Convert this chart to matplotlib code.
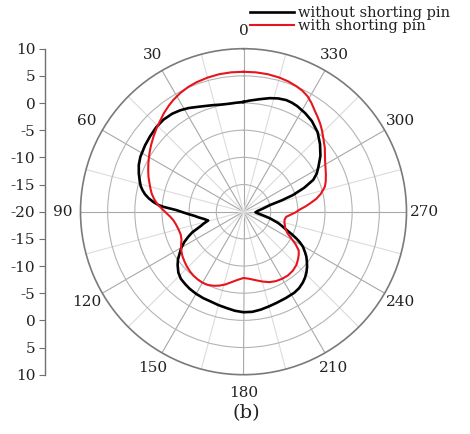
import matplotlib
matplotlib.use("Agg")
import matplotlib.pyplot as plt
import numpy as np

# measured radiation pattern (angle in deg, gain in dB)
ang_without = [0, 4, 8, 12, 16, 20, 24, 28, 32, 36, 41, 46, 51, 56, 62, 66, 70, 73, 76, 78, 80,
               82, 84, 85.5, 86.5, 88.6, 90.5, 92.4, 95, 97, 100, 104, 106.5, 109, 112, 114.5,
               117, 120, 123, 126, 129, 133, 137, 141, 145, 150, 155, 160, 165, 170, 175, 180,
               185, 190, 195, 200, 206, 212, 216, 220, 223, 226, 229, 232, 234.5, 236.5, 239.5,
               241.5, 243, 245, 247, 249.5, 252, 256, 259.5, 263, 267, 273, 279, 284, 286.5,
               288.6, 291.5, 294.5, 297.5, 301, 306, 311.5, 317, 323, 328, 333, 336, 339, 343,
               347, 352, 357, 360]
gain_without = [0.2, 0.1, 0.05, 0.15, 0.4, 0.7, 1.1, 1.6, 2.0, 2.3, 2.45, 2.35, 2.1, 1.85, 1.5,
                1.1, 0.5, 0.0, -0.5, -1.0, -1.6, -2.4, -3.4, -4.3, -5.2, -7.6, -8.8, -9.8, -11.0,
                -11.6, -12.5, -13.3, -12.4, -11.5, -9.8, -8.8, -7.8, -6.8, -6.0, -5.1, -4.4,
                -3.6, -3.1, -2.9, -2.7, -2.55, -2.45, -2.4, -2.2, -2.0, -1.7, -1.5, -1.5, -1.7,
                -1.95, -2.15, -2.3, -2.4, -2.6, -3.0, -3.4, -3.9, -4.5, -5.2, -5.8, -6.4, -7.3,
                -8.2, -9.0, -10.2, -11.4, -12.4, -13.3, -15.0, -16.4, -17.3, -17.8, -17.4, -16.4,
                -15.0, -12.7, -10.4, -8.0, -5.9, -4.8, -3.9, -2.5, -1.2, 0.0, 0.9, 1.4, 1.8,
                1.95, 2.0, 1.8, 1.45, 0.9, 0.47, 0.2]

ang_with = [0, 5, 10, 15, 20, 24, 28, 32, 35, 39, 42.5, 46, 50, 54, 57, 60, 64, 67, 70, 73, 76,
            79, 82, 85, 88, 91, 94, 97, 100, 105, 110, 114, 118, 122, 126, 130, 134, 138, 142,
            146, 150, 154, 158, 162, 166, 170, 175, 180, 185, 190, 195, 200, 205, 210, 215, 220,
            225, 229, 232, 235, 238, 241, 244, 248, 252, 255, 259, 263, 266, 269, 272, 275, 277,
            280, 283, 287, 290, 294, 298, 302, 305, 308, 311, 313, 316, 319, 322, 325, 328, 331,
            334, 337, 341, 345, 350, 355, 360]
gain_with = [5.75, 5.75, 5.7, 5.55, 5.35, 5.1, 4.75, 4.3, 3.9, 3.3, 2.7, 2.2, 1.6, 1.0, 0.55,
             0.1, -0.5, -0.95, -1.4, -1.9, -2.35, -2.8, -3.4, -4.1, -5.0, -5.8, -6.5, -7.0, -7.3,
             -7.6, -7.7, -7.5, -7.0, -6.5, -6.1, -5.8, -5.5, -5.25, -5.05, -4.95, -4.9, -5.0,
             -5.3, -5.7, -6.2, -6.8, -7.4, -7.8, -7.6, -7.2, -6.7, -6.2, -5.9, -5.75, -5.7,
             -5.85, -6.2, -6.7, -7.1, -7.6, -8.7, -10.0, -11.0, -11.7, -12.0, -12.2, -12.3,
             -12.1, -11.4, -10.5, -9.7, -8.5, -7.7, -6.4, -5.4, -4.35, -3.9, -3.4, -2.9, -2.3,
             -1.7, -1.0, -0.4, 0.06, 0.8, 1.5, 2.15, 2.8, 3.6, 4.3, 4.75, 5.05, 5.35, 5.55, 5.7,
             5.75, 5.75]

theta_ticks = list(range(0, 360, 30))
scale_ticks = list(range(-30, 31, 5))
scale_labels = ["10", "5", "0", "-5", "-10", "-15", "-20", "-15", "-10", "-5", "0", "5", "10"]

plt.rcParams['font.family'] = ['DejaVu Serif']
plt.rcParams['font.size'] = 10.5
txt = '#222222'

fig = plt.figure(figsize=(4.7, 4.34), dpi=100)
bottom = (434 - 211.7 - 163) / 434
height = 326 / 434
ax = fig.add_axes([(243.5 - 163) / 470, bottom, 326 / 470, height], projection='polar')
ax.set_theta_zero_location('N')
ax.set_theta_direction(1)

ax.plot(np.deg2rad(ang_without), gain_without, color='black', lw=1.9, label='without shorting pin')
ax.plot(np.deg2rad(ang_with), gain_with, color='#e8141c', lw=1.5, label='with shorting pin')

ax.set_ylim(-20, 10)
ax.set_yticks([-15, -10, -5, 0, 5])
ax.set_yticklabels([])
ax.set_xticks(np.deg2rad(theta_ticks))
ax.set_xticklabels([str(t) for t in theta_ticks], color=txt, fontsize=11)
ax.set_xticks(np.deg2rad(np.arange(15, 360, 30)), minor=True)
ax.xaxis.grid(True, which='major', color='#a8a8a8', lw=0.8)
ax.xaxis.grid(True, which='minor', color='#dcdcdc', lw=0.8)
ax.yaxis.grid(True, color='#b4b4b4', lw=0.8)
ax.tick_params(axis='x', which='both', direction='in', length=4, color='#888888', pad=6)
ax.spines['polar'].set_color('#7a7a7a')
ax.spines['polar'].set_linewidth(1.2)

# left dB scale (top to bottom)
axl = fig.add_axes([45 / 470, bottom, 0.0001, height])
axl.set_ylim(-30, 30)
axl.invert_yaxis()
axl.set_yticks(scale_ticks)
axl.set_yticklabels(scale_labels, color=txt, fontsize=11)
axl.set_xticks([])
for s in ['top', 'right', 'bottom']:
    axl.spines[s].set_visible(False)
axl.spines['left'].set_color('#707070')
axl.spines['left'].set_linewidth(1.0)
axl.tick_params(axis='y', length=4, color='#707070', pad=3)

ax.legend(loc='upper left', bbox_to_anchor=(250 / 470, 1 - 6 / 434), bbox_transform=fig.transFigure,
          frameon=False, borderpad=0, borderaxespad=0, handlelength=3.0, handletextpad=0.3,
          labelspacing=-0.05, fontsize=10.5, labelcolor=txt)

fig.text(246 / 470, 1 - 413 / 434, '(b)', ha='center', va='center', fontsize=14, color=txt)

fig.savefig('out.png', dpi=100)
